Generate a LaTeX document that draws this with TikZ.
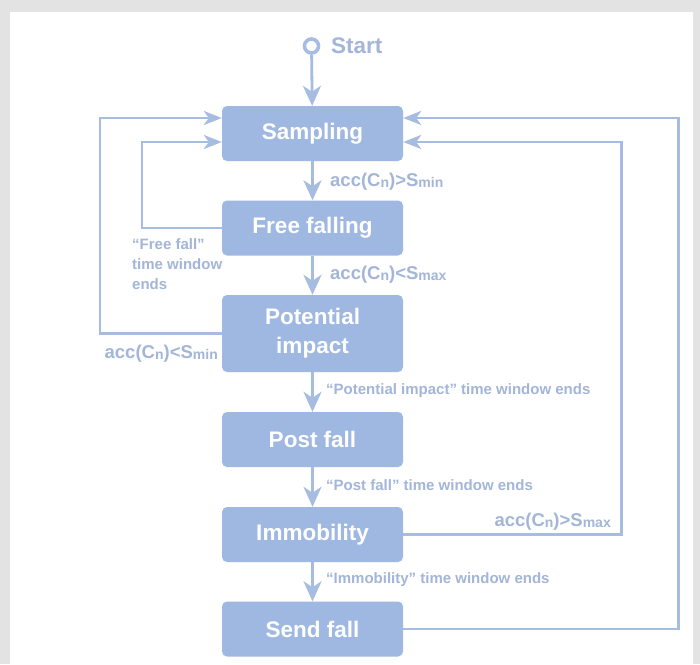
\documentclass[tikz,border=0pt]{standalone}
\usepackage{fontspec}
\setmainfont{Liberation Sans}
\usepackage{xcolor}
\usetikzlibrary{arrows.meta}
\definecolor{boxHTML}{HTML}{9FB8E1}
\definecolor{lineHTML}{HTML}{A6BCE0}
\definecolor{textHTML}{HTML}{A3B5D8}
\definecolor{bgHTML}{HTML}{E3E3E3}
\newcommand{\lowsub}[1]{\raisebox{-0.8pt}{\fontsize{14}{14}\selectfont #1}}
\tikzset{
  state_box/.style={rectangle, rounded corners=5pt, fill=boxHTML, text=white, minimum width=181pt, minimum height=55pt, inner sep=0pt, align=center, font=\fontsize{22.5}{29}\selectfont\bfseries},
  tall_box/.style={state_box, minimum height=77pt},
  start_ring/.style={circle, draw=lineHTML, line width=3.6pt, minimum size=14pt, inner sep=0pt},
  cond_label/.style={text=textHTML, inner sep=0pt, font=\fontsize{18.5}{21}\selectfont\bfseries},
  window_label/.style={text=textHTML, inner sep=0pt, font=\fontsize{15}{18}\selectfont\bfseries},
  note_label/.style={text=textHTML, inner sep=0pt, align=left, font=\fontsize{15}{20}\selectfont\bfseries},
  flow_edge/.style={line width=2.8pt, draw=lineHTML, -{Stealth[length=20pt, width=18pt, inset=6pt]}},
  loop_edge/.style={line width=2.6pt, draw=lineHTML, -{Stealth[length=18pt, width=14pt, inset=5pt]}}
}
\begin{document}
\begin{tikzpicture}[x=1pt, y=-1pt]
        \fill[bgHTML] (0,0) rectangle (700,664);
        \fill[white] (10,12) rectangle (693,664);
        \useasboundingbox (0,0) rectangle (700,664);
        \node[start_ring] (start) at (311.5,46) {};
        \node[cond_label, anchor=west, font=\fontsize{22.5}{26}\selectfont\bfseries] (starttxt) at (331,46) {Start};
        \node[state_box] (samp) at (312.5,133.5) {Sampling};
        \node[state_box] (free) at (312.5,228) {Free falling};
        \node[tall_box] (pot) at (312.5,333.5) {Potential\\impact};
        \node[state_box] (post) at (312.5,439.5) {Post fall};
        \node[state_box] (immo) at (312.5,534.5) {Immobility};
        \node[state_box] (send) at (312.5,629) {Send fall};
        \draw[flow_edge] (start) -- (samp);
        \draw[flow_edge] (samp) -- (free);
        \draw[flow_edge] (free) -- (pot);
        \draw[flow_edge] (pot) -- (post);
        \draw[flow_edge] (post) -- (immo);
        \draw[flow_edge] (immo) -- (send);
        \draw[loop_edge] (pot.west) -- ++(-122,0) |- ([yshift=15.5pt]samp.west);
        \draw[loop_edge] (free.west) -- ++(-80,0) |- ([yshift=-8.5pt]samp.west);
        \draw[loop_edge] (immo.east) -- ++(218,0) |- ([yshift=-8.5pt]samp.east);
        \draw[loop_edge] (send.east) -- ++(275,0) |- ([yshift=15.5pt]samp.east);
        \node[cond_label, anchor=west] (c1) at (330,182) {acc(C\lowsub{n})>S\lowsub{min}};
        \node[cond_label, anchor=west] (c2) at (330,275) {acc(C\lowsub{n})<S\lowsub{max}};
        \node[note_label, anchor=north west] (c3) at (132,238) {``Free fall''\\time window\\ends};
        \node[cond_label, anchor=east] (c4) at (218,354) {acc(C\lowsub{n})<S\lowsub{min}};
        \node[window_label, anchor=west] (c5) at (326,391) {``Potential impact'' time window ends};
        \node[window_label, anchor=west] (c6) at (326,485) {``Post fall'' time window ends};
        \node[cond_label, anchor=east] (c7) at (611,522) {acc(C\lowsub{n})>S\lowsub{max}};
        \node[window_label, anchor=west] (c8) at (326,580) {``Immobility'' time window ends};
    \end{tikzpicture}
\end{document}
